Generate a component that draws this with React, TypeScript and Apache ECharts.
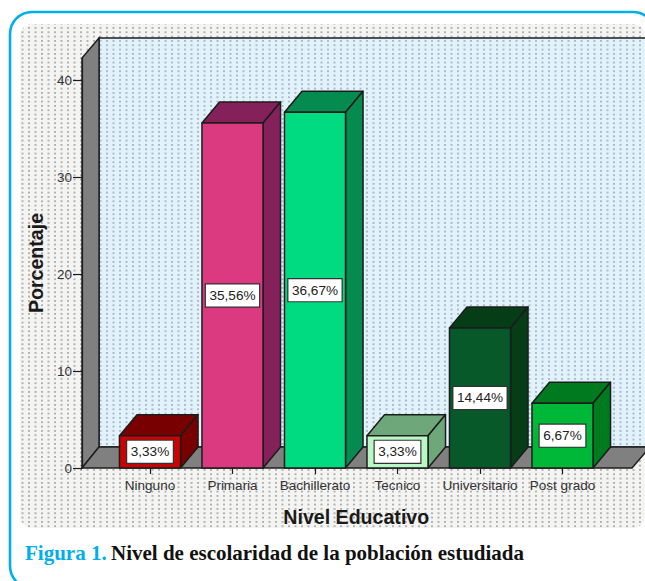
import React, { useEffect, useRef } from "react";
import * as echarts from "echarts";

const categories = ["Ninguno", "Primaria", "Bachillerato", "Tecnico", "Universitario", "Post grado"];
const percentages = [3.33, 35.56, 36.67, 3.33, 14.44, 6.67];
const frontColors = ["#c80404", "#dc3a80", "#00da80", "#b9f7c4", "#07592a", "#00b838"];
const shadeColors = ["#780000", "#84205a", "#058a50", "#6ea87a", "#053d17", "#007a1e"];
const yTicks = { min: 0, max: 42.27, interval: 10 };
const captionLead = "Figura 1.";
const captionBody = "Nivel de escolaridad de la población estudiada";

function dotTile(bg: string, dot: string) {
  const c = document.createElement("canvas");
  c.width = 13;
  c.height = 13;
  const g = c.getContext("2d")!;
  g.fillStyle = bg;
  g.fillRect(0, 0, 13, 13);
  g.fillStyle = dot;
  for (const x of [2, 8.5]) {
    for (const y of [1, 5.33, 9.66]) {
      g.fillRect(x, y, 2, 1.8);
    }
  }
  return c;
}

export default function App() {
  const ref = useRef<HTMLDivElement>(null);
  useEffect(() => {
    document.body.style.margin = "0";
    const chart = echarts.init(ref.current!, null, { renderer: "svg" });
    const panelFill: any = { image: dotTile("#f4f4f3", "#b0b0b0"), repeat: "repeat" };
    const wallFill: any = { image: dotTile("#e2f2fc", "#a8bac6"), repeat: "repeat" };
    const line = "#1c1c1c";
    const DX = 17.5;
    const DY = 21;
    chart.setOption({
      animation: false,
      backgroundColor: "#fff",
      grid: { left: 108.75, width: 495, top: 58, height: 410 },
      xAxis: {
        type: "category",
        data: categories,
        axisLine: { show: false },
        axisTick: { show: true, alignWithLabel: true, length: 6, lineStyle: { color: line, width: 1.2 } },
        axisLabel: { interval: 0, color: "#333", fontFamily: "Liberation Sans", fontSize: 13.5, margin: 10 },
        name: "Nivel Educativo",
        nameLocation: "middle",
        nameGap: 39,
        nameTextStyle: { color: "#1a1a1a", fontFamily: "Liberation Sans", fontWeight: "bold", fontSize: 19.6 },
      },
      yAxis: {
        type: "value",
        min: yTicks.min,
        max: yTicks.max,
        interval: yTicks.interval,
        offset: 26.75,
        splitLine: { show: false },
        axisLine: { show: true, lineStyle: { color: line, width: 1.2 } },
        axisTick: { show: true, length: 9, lineStyle: { color: line, width: 1.2 } },
        axisLabel: {
          color: "#333",
          fontFamily: "Liberation Sans",
          fontSize: 13.5,
          margin: 10,
          showMaxLabel: false,
        },
        name: "Porcentaje",
        nameLocation: "middle",
        nameGap: 36,
        nameTextStyle: { color: "#1a1a1a", fontFamily: "Liberation Sans", fontWeight: "bold", fontSize: 19.6 },
      },
      graphic: {
        elements: [
          { type: "rect", z: -10, shape: { x: 20, y: 24, width: 625, height: 504, r: 12 }, style: { fill: panelFill } },
          { type: "rect", z: -9, shape: { x: 99, y: 38, width: 560, height: 409 }, style: { fill: wallFill, stroke: line, lineWidth: 1.5 } },
          { type: "polygon", z: -8, shape: { points: [[82, 58], [99, 38], [99, 447], [82, 468]] }, style: { fill: "#808080", stroke: line, lineWidth: 1.4 } },
          { type: "polygon", z: -8, shape: { points: [[82, 468], [99, 447], [650, 447], [632, 468]] }, style: { fill: "#808080", stroke: line, lineWidth: 1.4 } },
          { type: "rect", z: -7, shape: { x: 10, y: 12, width: 645, height: 576, r: 22 }, style: { fill: "none", stroke: "#00aeef", lineWidth: 2.6 } },
          {
            type: "text",
            z: 5,
            style: { x: 25, y: 553, text: captionLead, fill: "#00aeef", font: "bold 21px 'Liberation Serif'", verticalAlign: "middle" },
          },
          {
            type: "text",
            z: 5,
            style: { x: 111, y: 553, text: captionBody, fill: "#111", font: "bold 21px 'Liberation Serif'", verticalAlign: "middle" },
          },
        ],
      },
      series: [
        {
          type: "custom",
          data: categories.map((c, i) => [i, percentages[i]]),
          encode: { x: 0, y: 1 },
          clip: false,
          renderItem: (params: any, api: any) => {
            const i = params.dataIndex;
            const v = api.value(1);
            const [cx, top] = api.coord([api.value(0), v]);
            const [, base] = api.coord([api.value(0), 0]);
            const half = (api.size([1, 0])[0] * 0.74) / 2;
            const l = cx - half;
            const r = cx + half;
            const st = (fill: string) => ({ fill, stroke: line, lineWidth: 1.5, lineJoin: "round" });
            return {
              type: "group",
              children: [
                { type: "polygon", shape: { points: [[l, top], [l + DX, top - DY], [r + DX, top - DY], [r, top]] }, style: st(shadeColors[i]) },
                { type: "polygon", shape: { points: [[r, top], [r + DX, top - DY], [r + DX, base - DY], [r, base]] }, style: st(shadeColors[i]) },
                { type: "rect", shape: { x: l, y: top, width: r - l, height: base - top }, style: st(frontColors[i]) },
                {
                  type: "text",
                  z2: 5,
                  style: {
                    x: cx,
                    y: (top + base) / 2,
                    text: v.toFixed(2).replace(".", ",") + "%",
                    align: "center",
                    verticalAlign: "middle",
                    fill: "#222",
                    font: "13.6px 'Liberation Sans'",
                    backgroundColor: "#fff",
                    borderColor: "#333",
                    borderWidth: 1.2,
                    padding: [4, 3.5],
                  },
                },
              ],
            };
          },
        },
      ],
    });
    return () => chart.dispose();
  }, []);
  return <div ref={ref} style={{ position: "absolute", left: 0, top: 0, width: 645, height: 581 }} />;
}
